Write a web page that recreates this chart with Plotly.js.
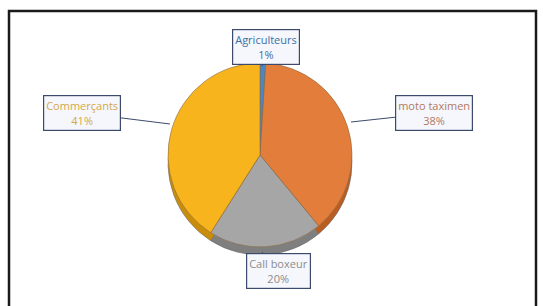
<!DOCTYPE html>
<html><head><meta charset="utf-8">
<script src="https://cdn.plot.ly/plotly-3.0.1.min.js"></script>
<style>html,body{margin:0;padding:0;background:#fff}#c{width:543px;height:306px}</style>
</head><body><div id="c"></div>
<script>
const categories = ["Agriculteurs", "moto taximen", "Call boxeur", "Commerçants"];
const values = [1, 38, 20, 41];
const topColors = ["#4a87c6", "#e27d3c", "#a6a6a6", "#f8b41c"];
const sideColors = ["#2f6aa3", "#b95d22", "#7f7f7f", "#c98d0a"];
const labelColors = ["#3b6fa6", "#b27a5e", "#8c8c8c", "#d4a748"];
const labelPos = [[266, 47], [434, 113], [278, 271], [82, 113]];
const arrowTo = [[262, 66], [351, 122], [262, 252], [170, 124]];

const W = 543, H = 306;
const px = x => x / W, py = y => 1 - y / H;
const cx = 260, cy = 155, r = 92, thick = 8;

const pieBase = {
  type: "pie", labels: categories, values: values, sort: false,
  direction: "clockwise", rotation: 0, textinfo: "none", hoverinfo: "label+percent",
  showlegend: false
};
const side = Object.assign({}, pieBase, {
  marker: {colors: sideColors, line: {color: "#6b6b6b", width: 0.6}},
  domain: {x: [px(cx - r), px(cx + r)], y: [py(cy + thick + r), py(cy + thick - r)]}
});
const top_ = Object.assign({}, pieBase, {
  marker: {colors: topColors, line: {color: "#8a6a40", width: 0.6}},
  domain: {x: [px(cx - r), px(cx + r)], y: [py(cy + r), py(cy - r)]}
});

const annotations = categories.map((c, i) => ({
  xref: "paper", yref: "paper",
  x: px(arrowTo[i][0]), y: py(arrowTo[i][1]),
  ax: labelPos[i][0] - arrowTo[i][0], ay: labelPos[i][1] - arrowTo[i][1],
  showarrow: true, arrowhead: 0, arrowwidth: 1, arrowcolor: "#3c4a6b",
  text: c + "<br>" + values[i] + "%",
  font: {family: "Open Sans, Liberation Sans, sans-serif", size: 11, color: labelColors[i]},
  bgcolor: "#f5f7fc", bordercolor: "#3c4a6b", borderwidth: 1.2, borderpad: 2
}));

const layout = {
  width: W, height: H, margin: {l: 0, r: 0, t: 0, b: 0},
  paper_bgcolor: "#ffffff", showlegend: false,
  annotations: annotations,
  shapes: [{type: "rect", xref: "paper", yref: "paper",
    x0: px(9), x1: px(536), y0: py(310), y1: py(11),
    line: {color: "#1a1a1a", width: 2.5}, fillcolor: "rgba(0,0,0,0)"}]
};
Plotly.newPlot("c", [side, top_], layout, {displayModeBar: false, staticPlot: true});
</script></body></html>
